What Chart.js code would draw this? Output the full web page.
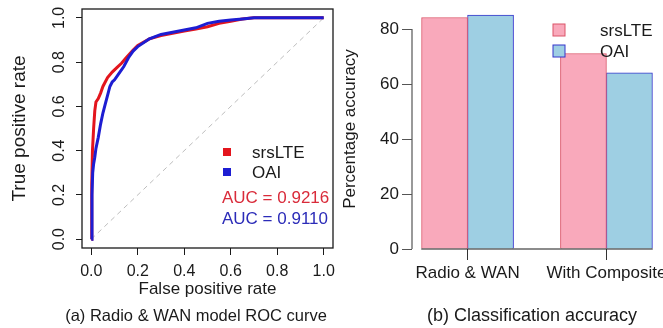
<!DOCTYPE html>
<html>
<head>
<meta charset="utf-8">
<script src="https://cdn.jsdelivr.net/npm/chart.js@4.4.1/dist/chart.umd.min.js"></script>
<style>
  html, body { margin: 0; padding: 0; background: #fff; }
  #wrap { position: relative; width: 663px; height: 328px; overflow: hidden; }
  #rocChart { position: absolute; left: 0; top: 0; }
  #accChart { position: absolute; left: 340px; top: 0; }
</style>
</head>
<body>
<div id="wrap">
  <canvas id="rocChart" width="340" height="328"></canvas>
  <canvas id="accChart" width="323" height="328"></canvas>
</div>
<script>
// ROC curves (false positive rate / true positive rate)
const fprSrs = [0, 0.002, 0.005, 0.01, 0.015, 0.02, 0.03, 0.04, 0.05, 0.06, 0.07, 0.09, 0.11, 0.13, 0.15, 0.18, 0.2, 0.25, 0.3, 0.35, 0.4, 0.45, 0.5, 0.55, 0.6, 0.65, 0.7, 1.0];
const tprSrs = [0, 0.25, 0.4, 0.5, 0.58, 0.62, 0.635, 0.66, 0.69, 0.71, 0.73, 0.755, 0.775, 0.795, 0.82, 0.855, 0.875, 0.905, 0.92, 0.93, 0.94, 0.95, 0.96, 0.975, 0.985, 0.995, 1.0, 1.0];
const fprOai = [0, 0.003, 0.006, 0.01, 0.015, 0.02, 0.03, 0.04, 0.05, 0.06, 0.07, 0.08, 0.09, 0.1, 0.12, 0.14, 0.16, 0.18, 0.2, 0.25, 0.3, 0.35, 0.4, 0.45, 0.5, 0.55, 0.6, 0.65, 0.7, 1.0];
const tprOai = [0, 0.2, 0.3, 0.34, 0.37, 0.41, 0.46, 0.52, 0.57, 0.61, 0.65, 0.69, 0.71, 0.72, 0.75, 0.78, 0.82, 0.85, 0.87, 0.905, 0.925, 0.935, 0.945, 0.955, 0.975, 0.985, 0.99, 0.995, 1.0, 1.0];
const rocTicks = [0, 0.2, 0.4, 0.6, 0.8, 1.0];
const aucLabels = ["AUC = 0.9216", "AUC = 0.9110"];

// classification accuracy (%)
const seriesNames = ["srsLTE", "OAI"];
const groups = ["Radio & WAN", "With Composite"];
const accSrs = [84.2, 71.1];
const accOai = [85.1, 64.1];
const accTicks = [0, 20, 40, 60, 80];

const FONT = "'Liberation Sans', Arial, Helvetica, sans-serif";
Chart.defaults.font.family = FONT;
Chart.defaults.color = "#1a1a1a";

const RED = "#e3151d";
const BLUE = "#1d1dd2";

function toPoints(xs, ys) {
  return xs.map((x, i) => ({ x: x, y: ys[i] }));
}

// left panel: box, rotated y labels, legend text, caption
const rocExtras = {
  id: "rocExtras",
  afterDraw(chart) {
    const { ctx, chartArea: a, scales } = chart;
    ctx.save();
    ctx.strokeStyle = "#1a1a1a";
    ctx.lineWidth = 1.3;
    ctx.strokeRect(a.left, a.top, a.right - a.left, a.bottom - a.top);

    // y tick labels are vertical in the original
    ctx.fillStyle = "#1a1a1a";
    ctx.font = "16px " + FONT;
    ctx.textAlign = "center";
    ctx.textBaseline = "middle";
    scales.y.ticks.forEach((t) => {
      ctx.save();
      ctx.translate(a.left - 22, scales.y.getPixelForValue(t.value));
      ctx.rotate(-Math.PI / 2);
      ctx.fillText(t.value.toFixed(1), 0, 0);
      ctx.restore();
    });

    // legend
    ctx.font = "17px " + FONT;
    ctx.textAlign = "left";
    seriesNames.forEach((name, i) => {
      const ds = chart.data.datasets.find((d) => d.label === name);
      const y = 152 + i * 20;
      ctx.fillStyle = ds.borderColor;
      ctx.fillRect(223, y - 4, 8, 8);
      ctx.fillStyle = "#1a1a1a";
      ctx.fillText(name, 252, y + 1);
    });
    aucLabels.forEach((txt, i) => {
      ctx.fillStyle = i === 0 ? "#d92b3a" : "#2b2bb8";
      ctx.fillText(txt, 222, 198 + i * 21);
    });

    ctx.fillStyle = "#1a1a1a";
    ctx.font = "16.5px " + FONT;
    ctx.textAlign = "center";
    ctx.fillText("(a) Radio & WAN model ROC curve", 196, 316);
    ctx.restore();
  },
};

new Chart(document.getElementById("rocChart"), {
  type: "line",
  data: {
    datasets: [
      { label: "OAI", data: toPoints(fprOai, tprOai), borderColor: BLUE, borderWidth: 3, pointRadius: 0, tension: 0 },
      { label: "srsLTE", data: toPoints(fprSrs, tprSrs), borderColor: RED, borderWidth: 3, pointRadius: 0, tension: 0 },
      { label: "chance", data: [{ x: 0, y: 0 }, { x: 1, y: 1 }], borderColor: "#bdbdbd", borderWidth: 1, borderDash: [5, 4], pointRadius: 0 },
    ],
  },
  options: {
    responsive: false,
    animation: false,
    layout: { padding: { left: 0, right: 7, top: 9, bottom: 28 } },
    plugins: { legend: { display: false }, tooltip: { enabled: false } },
    scales: {
      x: {
        type: "linear",
        min: -0.04,
        max: 1.04,
        afterBuildTicks: (s) => { s.ticks = rocTicks.map((v) => ({ value: v })); },
        afterFit: (s) => { s.height = 52; s.paddingLeft = 0; s.paddingRight = 0; },
        ticks: { callback: (v) => v.toFixed(1), font: { size: 16 }, padding: 7, maxRotation: 0 },
        grid: { drawOnChartArea: false, tickLength: 7, tickColor: "#1a1a1a" },
        border: { display: false },
        title: { display: true, text: "False positive rate", font: { size: 17 }, padding: { top: 0, bottom: 0 } },
      },
      y: {
        type: "linear",
        min: -0.04,
        max: 1.04,
        afterBuildTicks: (s) => { s.ticks = rocTicks.map((v) => ({ value: v })); },
        afterFit: (s) => { s.width = 82; s.paddingTop = 0; s.paddingBottom = 0; },
        ticks: { display: false },
        grid: { drawOnChartArea: false, tickLength: 6, tickColor: "#1a1a1a" },
        border: { display: false },
        title: { display: true, text: "True positive rate", font: { size: 19 }, padding: { top: 8, bottom: 0 } },
      },
    },
  },
  plugins: [rocExtras],
});

// right panel: R-style axis lines, legend, caption
const accExtras = {
  id: "accExtras",
  afterDatasetsDraw(chart) {
    const { ctx, scales } = chart;
    const x = scales.x, y = scales.y;
    ctx.save();
    ctx.lineWidth = 1.2;
    ctx.strokeStyle = "#555";
    ctx.beginPath();
    ctx.moveTo(x.left, y.getPixelForValue(accTicks[0]));
    ctx.lineTo(x.left, y.getPixelForValue(accTicks[accTicks.length - 1]));
    ctx.stroke();
    ctx.strokeStyle = "#1a1a1a";
    ctx.beginPath();
    ctx.moveTo(x.getPixelForValue(1), y.getPixelForValue(0));
    ctx.lineTo(x.getPixelForValue(6), y.getPixelForValue(0));
    ctx.stroke();

    ctx.font = "17px " + FONT;
    ctx.textAlign = "left";
    ctx.textBaseline = "middle";
    chart.data.datasets.forEach((ds, i) => {
      const ly = 30 + i * 21;
      ctx.fillStyle = ds.backgroundColor;
      ctx.fillRect(213, ly - 6, 12, 12);
      ctx.strokeStyle = ds.borderColor;
      ctx.lineWidth = 1;
      ctx.strokeRect(213, ly - 6, 12, 12);
      ctx.fillStyle = "#1a1a1a";
      ctx.fillText(ds.label, 260, ly + 1);
    });

    ctx.font = "18px " + FONT;
    ctx.textAlign = "center";
    ctx.fillText("(b) Classification accuracy", 192, 316);
    ctx.restore();
  },
};

new Chart(document.getElementById("accChart"), {
  type: "bar",
  data: {
    datasets: [
      { label: seriesNames[0], data: accSrs.map((v, i) => ({ x: 2 + 3 * i, y: v })), backgroundColor: "#f9a9bb", borderColor: "#db5468", borderWidth: 1, barThickness: 46 },
      { label: seriesNames[1], data: accOai.map((v, i) => ({ x: 2 + 3 * i, y: v })), backgroundColor: "#9ecfe3", borderColor: "#3434cc", borderWidth: 1, barThickness: 46 },
    ],
  },
  options: {
    responsive: false,
    animation: false,
    layout: { padding: { left: 0, right: 1, top: 9, bottom: 0 } },
    plugins: { legend: { display: false }, tooltip: { enabled: false } },
    scales: {
      x: {
        type: "linear",
        offset: false,
        min: 0.8,
        max: 6.2,
        afterBuildTicks: (s) => { s.ticks = groups.map((g, i) => ({ value: 2 + 3 * i })); },
        afterFit: (s) => { s.height = 79; s.paddingLeft = 0; s.paddingRight = 0; },
        ticks: { callback: (v, i) => groups[i], font: { size: 17 }, padding: 3, maxRotation: 0, autoSkip: false },
        grid: { offset: false, drawOnChartArea: false, tickLength: 11, tickColor: "#333" },
        border: { display: false },
      },
      y: {
        min: 0,
        max: 87.3,
        afterBuildTicks: (s) => { s.ticks = accTicks.map((v) => ({ value: v })); },
        afterFit: (s) => { s.width = 72; s.paddingTop = 0; s.paddingBottom = 0; },
        ticks: { font: { size: 17 }, padding: 3 },
        grid: { drawOnChartArea: false, tickLength: 10, tickColor: "#555" },
        border: { display: false },
        title: { display: true, text: "Percentage accuracy", font: { size: 17 }, padding: { top: 0, bottom: 0 } },
      },
    },
  },
  plugins: [accExtras],
});
</script>
</body>
</html>
